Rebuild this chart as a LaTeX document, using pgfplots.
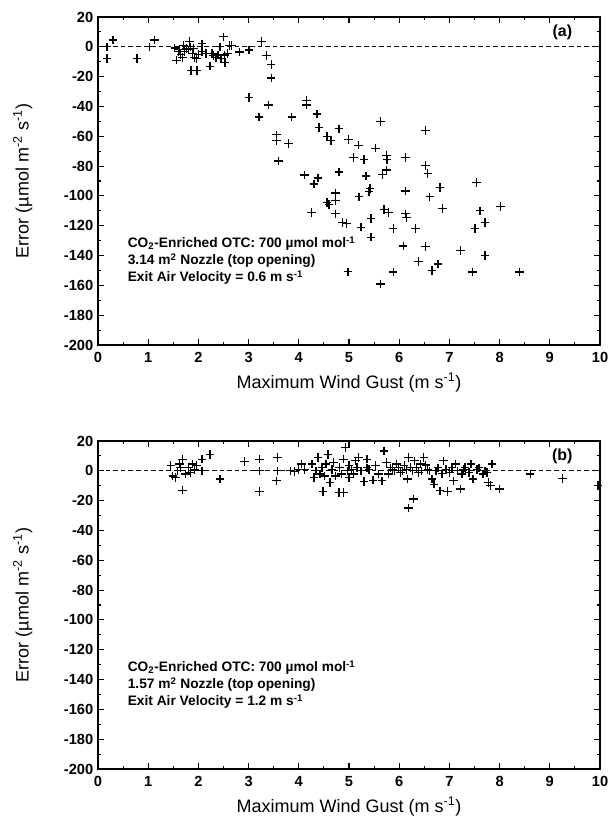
\documentclass[border=0pt]{standalone}
\usepackage{fontspec}
\setmainfont{Liberation Sans}
\usepackage{pgfplots}
\pgfplotsset{compat=1.18}

\pgfplotsset{
  errax/.style={
    scale only axis, width=376.5pt, height=246pt,
    xmin=0, xmax=10, ymin=-200, ymax=20,
    xtick={0,1,...,10}, ytick={-200,-180,...,20},
    minor x tick num=1, minor y tick num=1,
    tick align=inside,
    major tick length=4.5pt, minor tick length=2.5pt,
    every tick/.style={black, line width=0.8pt},
    axis line style={line width=1pt},
    ticklabel style={font=\bfseries\fontsize{11}{12}\selectfont},
    xticklabel style={yshift=-2pt},
    /pgf/number format/assume math mode=true,
    xlabel={Maximum Wind Gust (m s\textsuperscript{-1})},
    ylabel={Error (µmol m\textsuperscript{-2} s\textsuperscript{-1})},
    label style={font=\fontsize{13.5}{14}\selectfont},
    xlabel style={at={(axis description cs:0.5,-0.115)}, anchor=center},
    ylabel style={at={(axis description cs:-0.15,0.5)}, anchor=center},
    clip=false,
  },
  pts/.style={only marks, mark=+, mark size=3.2pt, black, line width=1pt},
}
\tikzset{
  zero/.style={black, line width=0.7pt, dash pattern=on 3.5pt off 2.2pt},
  note/.style={anchor=north west, align=left, font=\bfseries\fontsize{10.3}{12.75}\selectfont},
}

\begin{document}
\begin{tikzpicture}
\begin{axis}[errax, at={(73.5pt,358.5pt)}, anchor=south west]
\draw[zero] (axis cs:0,0) -- (axis cs:10,0);
\addplot[pts] coordinates {
(0.18,0) (0.18,-7.8) (0.30,4.5) (0.78,-7.8) (1.02,0) (1.13,4.5)
(1.53,-0.7) (1.56,-9) (1.62,-2) (1.68,-7) (1.72,-3) (1.76,-1) (1.82,3.4)
(1.84,0) (1.88,-4.5) (1.92,-7) (1.85,-16) (1.97,-16) (1.96,-8) (2.07,2)
(2.07,-3) (2.15,-4.5) (2.23,-13) (2.27,-4.5) (2.35,-7) (2.39,-5.6) (2.43,0)
(2.50,6.7) (2.52,-5.6) (2.53,-10.5) (2.58,-4.5) (2.62,1) (2.66,1)
(1.65,-5) (1.80,-2) (1.90,-1) (2.00,-5) (2.30,-6) (2.45,-8) (1.70,1) (1.60,-3)
(2.82,-3.4) (3.01,-2.2) (3.01,-34) (3.26,3.4) (3.21,-47) (3.36,-6) (3.40,-39)
(3.45,-12) (3.45,-21) (3.56,-59) (3.56,-63) (3.79,-65) (3.86,-47) (4.15,-36)
(4.15,-39) (4.36,-45) (4.40,-54) (4.56,-60) (4.64,-63) (4.80,-55) (4.99,-62)
(5.19,-66) (5.53,-68) (5.63,-50) (6.52,-56) (3.60,-76.6) (5.09,-74.4)
(5.30,-75.5) (5.75,-73) (5.76,-75.5) (6.13,-74.4) (6.52,-79.5) (6.57,-85)
(4.11,-86) (4.38,-88) (4.30,-92) (4.80,-84) (5.34,-86.6) (5.67,-85.5)
(5.75,-82.7) (7.54,-91) (6.81,-94.5) (6.13,-96.7) (4.73,-98) (4.73,-103)
(5.20,-100.6) (5.40,-97) (5.42,-95) (6.61,-100.6) (8.02,-107) (6.86,-108.4)
(4.56,-104.5) (4.60,-105.6) (5.70,-109) (5.79,-111) (7.61,-110) (6.13,-112)
(6.15,-114.6) (4.25,-111) (4.73,-112) (4.87,-118) (4.95,-118.4) (5.44,-115)
(5.24,-121) (5.88,-121.7) (6.32,-121.7) (7.51,-121.7) (7.71,-118) (5.44,-127.7)
(6.08,-133.5) (6.52,-134) (7.22,-136.8) (7.71,-140) (6.38,-144) (6.77,-145.6)
(6.65,-150) (4.98,-150.9) (5.88,-151) (7.46,-151) (8.40,-151) (5.63,-159)
};
\node[font=\bfseries\fontsize{12}{13}\selectfont] at (axis cs:9.25,9.5) {(a)};
\node[note] at (axis cs:0.5,-124) {CO\textsubscript{2}-Enriched OTC: 700 µmol mol\textsuperscript{-1}\\3.14 m\textsuperscript{2} Nozzle (top opening)\\Exit Air Velocity = 0.6 m s\textsuperscript{-1}};
\end{axis}

\begin{axis}[errax, at={(73.5pt,40.5pt)}, anchor=south west]
\draw[zero] (axis cs:0,0) -- (axis cs:10,0);
\addplot[pts] coordinates {
(1.45,3.4) (1.49,-3.4) (1.54,-4.5) (1.59,0) (1.62,4.5) (1.64,2.2) (1.68,7.8)
(1.68,-13) (1.74,-2.2) (1.80,2.2) (1.84,-1) (1.88,4.5) (1.92,0.5) (1.96,3.4)
(2.07,7.8) (2.07,0) (2.23,11) (2.43,-5.6) (2.92,6.3) (3.22,7.8) (3.22,0)
(3.22,-14) (3.58,9) (3.58,0) (3.56,-6.7) (3.83,0) (3.91,-0.5) (3.99,1)
(4.05,4.5) (4.11,1)
(4.26,4.5) (4.30,-4.5) (4.38,9) (4.42,-2.2) (4.48,-14) (4.54,4.5) (4.58,11)
(4.62,-7.8) (4.66,1) (4.73,-3.4) (4.80,-14.5) (4.89,-14.5) (4.89,7.8)
(4.93,15.7) (4.97,0) (5.00,3.4) (5.09,-2.2) (5.13,6.7) (5.19,9) (5.24,0)
(5.30,-7.2) (5.36,7.8) (5.40,1) (5.48,-6.3) (5.53,3.4) (5.59,-2.2) (5.66,-6.7)
(5.70,13.4) (5.75,5.6) (5.79,-2.2) (5.87,1) (5.95,4.5) (6.03,-1) (6.10,3.4)
(6.16,-5.6) (6.18,9) (6.18,-25) (6.28,-19) (6.22,2.2) (6.30,6.7) (6.38,-1)
(6.42,4.5) (6.49,9) (6.57,1) (6.65,-5.6) (6.69,-9) (6.73,0) (6.81,-13.4)
(6.88,6.7) (6.96,-13.9) (7.00,-1) (7.08,-6.7) (7.12,4.5) (7.22,-12.3)
(7.25,-2.2) (7.31,2.2) (7.43,4.5) (7.47,-5.6) (7.55,1) (7.67,-2.2) (7.75,-1)
(7.78,-7.8) (7.85,4.5) (7.82,-10) (8.00,-12.3)
(4.34,0) (4.46,2.2) (4.51,-3.4) (4.69,5.6) (4.81,2.2) (4.85,-2.2) (5.00,-4.5)
(5.05,1) (5.16,2.2) (5.36,2) (5.83,2) (5.91,0) (5.99,2) (6.07,0) (6.15,1)
(6.26,0) (6.34,2) (6.45,0) (6.53,4) (6.61,0) (6.77,2) (6.85,-2) (6.93,1)
(7.05,2) (7.16,0) (7.28,1) (7.39,-1) (7.59,2) (7.71,0)
(8.61,-2.2) (9.25,-5) (9.96,-10)
};
\node[font=\bfseries\fontsize{12}{13}\selectfont] at (axis cs:9.25,9.5) {(b)};
\node[note] at (axis cs:0.5,-124) {CO\textsubscript{2}-Enriched OTC: 700 µmol mol\textsuperscript{-1}\\1.57 m\textsuperscript{2} Nozzle (top opening)\\Exit Air Velocity = 1.2 m s\textsuperscript{-1}};
\end{axis}
\pgfresetboundingbox
\useasboundingbox (0,0) rectangle (456.75pt,617.25pt);
\end{tikzpicture}
\end{document}
